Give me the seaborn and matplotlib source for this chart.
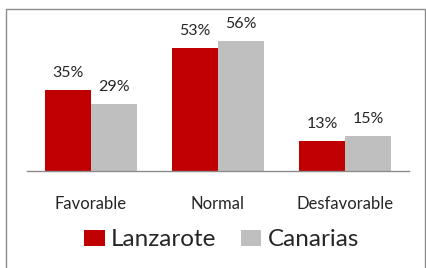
import matplotlib
matplotlib.use("Agg")
import matplotlib.pyplot as plt
import seaborn as sns
import pandas as pd
from matplotlib.patches import Rectangle, Patch

# data
categories = ["Favorable", "Normal", "Desfavorable"]
series = ["Lanzarote", "Canarias"]
lanzarote = [35, 53, 13]
canarias = [29, 56, 15]
colors = ["#C00000", "#BFBFBF"]

df = pd.DataFrame({
    "cat": categories * 2,
    "serie": [series[0]] * 3 + [series[1]] * 3,
    "val": lanzarote + canarias,
})

sns.set_style("white")
plt.rcParams["font.family"] = ["Lato", "DejaVu Sans"]

fig = plt.figure(figsize=(4.26, 2.68), dpi=100)
ax = fig.add_axes([27 / 426, 1 - 171 / 268, 382 / 426, 151 / 268])

sns.barplot(data=df, x="cat", y="val", hue="serie", hue_order=series,
            order=categories, palette=colors, width=0.72, saturation=1,
            linewidth=0, ax=ax, legend=False)

ax.set_xlim(-0.5, 2.5)
ax.set_ylim(0, 65)
ax.set_xlabel("")
ax.set_ylabel("")
ax.set_yticks([])
for s in ["top", "right", "left"]:
    ax.spines[s].set_visible(False)
ax.spines["bottom"].set_color("#8C8C8C")
ax.spines["bottom"].set_linewidth(1)
ax.tick_params(axis="x", length=0, pad=18, labelsize=12, labelcolor="#262626")

for cont in ax.containers:
    ax.bar_label(cont, labels=[f"{v:.0f}%" for v in cont.datavalues],
                 padding=7, fontsize=11.5, color="#262626")

handles = [Patch(facecolor=c, edgecolor="none") for c in colors]
fig.legend(handles, series, loc="center", bbox_to_anchor=(0.52, 1 - 240 / 268),
           ncol=2, frameon=False, fontsize=17.5, handlelength=0.85,
           handleheight=0.6, handletextpad=0.25, columnspacing=1.0,
           labelcolor="#262626")

# chart frame
fig.patches.append(Rectangle((6 / 426, -0.05), 419 / 426, 1 - 9 / 268 + 0.05,
                             transform=fig.transFigure, fill=False,
                             edgecolor="#8C8C8C", linewidth=1))

fig.savefig("out.png", dpi=100)
